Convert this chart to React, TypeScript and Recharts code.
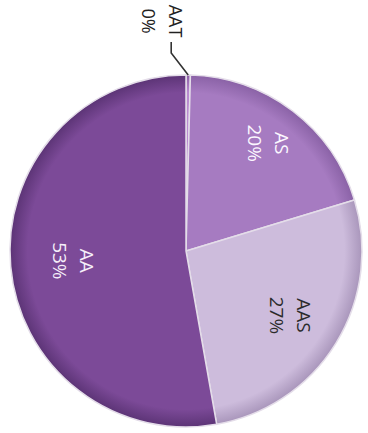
import { PieChart, Pie, Cell } from 'recharts';

// slices, clockwise from 12 o'clock (the source scan is turned 90° clockwise)
const categories = ['AAT', 'AS', 'AAS', 'AA'];
const shares = [0.4, 20, 27, 53];
const sliceColors = ['#b98bd0', '#a67bc1', '#cdbcdc', '#7c4a98'];
const rimColors = ['#8d5fa6', '#8a62a6', '#a996bb', '#5c3476'];
const textColors = ['#222222', '#fbf7ff', '#2b2b2b', '#f6effa'];
// how far out each inside label sits, as a share of the radius
const labelRadius = [1, 0.77, 0.7, 0.64];

const data = categories.map((name, i) => ({ name, value: shares[i] }));

const RAD = Math.PI / 180;
const CX = 186;
const CY = 251;
const R = 176;

const renderLabel = (props: any) => {
  const { cx, cy, midAngle, outerRadius, percent, index, name } = props;
  const pct = `${Math.round(percent * 100)}%`;
  const color = textColors[index];

  if (percent < 0.02) {
    // tiny slice: label outside with an elbow leader line
    const x0 = cx + outerRadius * Math.cos(-midAngle * RAD);
    const y0 = cy + outerRadius * Math.sin(-midAngle * RAD);
    const x1 = x0 - 17;
    const y1 = y0 - 22;
    const y2 = y0 - 33;
    const tx = x0 - 26;
    const ty = y0 - 54;
    return (
      <g>
        <polyline
          points={`${x0},${y0} ${x1},${y1} ${x1},${y2}`}
          fill="none"
          stroke="#333"
          strokeWidth={1.6}
        />
        <text
          transform={`translate(${tx},${ty}) rotate(90)`}
          textAnchor="middle"
          dominantBaseline="central"
          fill={color}
          fontSize={18}
          fontFamily="'Open Sans', sans-serif"
        >
          <tspan x={0} y={-13.5}>{name}</tspan>
          <tspan x={0} y={13.5}>{pct}</tspan>
        </text>
      </g>
    );
  }

  const r = outerRadius * labelRadius[index];
  const x = cx + r * Math.cos(-midAngle * RAD);
  const y = cy + r * Math.sin(-midAngle * RAD);
  return (
    <text
      transform={`translate(${x},${y}) rotate(90)`}
      textAnchor="middle"
      dominantBaseline="central"
      fill={color}
      fontSize={19}
      fontFamily="'Open Sans', sans-serif"
    >
      <tspan x={0} y={-13.5}>{name}</tspan>
      <tspan x={0} y={13.5}>{pct}</tspan>
    </text>
  );
};

export default function App() {
  return (
    <div style={{ position: 'absolute', left: 0, top: 0, width: 368, height: 433, background: '#fff' }}>
      <PieChart width={368} height={433} margin={{ top: 0, right: 0, bottom: 0, left: 0 }}>
        <defs>
          {sliceColors.map((c, i) => (
            <radialGradient
              key={i}
              id={`slice${i}`}
              gradientUnits="userSpaceOnUse"
              cx={CX}
              cy={CY}
              r={R}
            >
              <stop offset="0%" stopColor={c} />
              <stop offset="90%" stopColor={c} />
              <stop offset="100%" stopColor={rimColors[i]} />
            </radialGradient>
          ))}
        </defs>
        <Pie
          data={data}
          dataKey="value"
          nameKey="name"
          cx={CX}
          cy={CY}
          outerRadius={R}
          startAngle={90}
          endAngle={-270}
          stroke="#e4dde9"
          strokeWidth={1.5}
          label={renderLabel}
          labelLine={false}
          isAnimationActive={false}
        >
          {data.map((d, i) => (
            <Cell key={d.name} fill={`url(#slice${i})`} />
          ))}
        </Pie>
      </PieChart>
    </div>
  );
}
